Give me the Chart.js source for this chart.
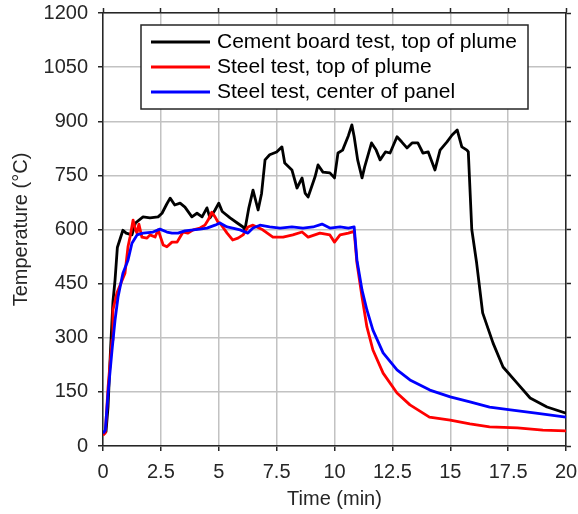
<!DOCTYPE html>
<html>
<head>
<meta charset="utf-8">
<script src="https://cdn.jsdelivr.net/npm/chart.js@4.4.1/dist/chart.umd.min.js"></script>
<style>
  html, body { margin: 0; padding: 0; background: #fff; }
  canvas { display: block; }
</style>
</head>
<body>
<canvas id="chart" width="578" height="514"></canvas>
<script>
// Cement board test, top of plume
const cementTime = [0, 0.13, 0.22, 0.32, 0.43, 0.52, 0.62, 0.86, 1.0, 1.25, 1.4, 1.73, 2.03, 2.38, 2.55, 2.75, 2.9, 3.1, 3.33, 3.54, 3.84, 4.06, 4.28, 4.49, 4.62, 4.84, 5.0, 5.15, 5.49, 5.8, 6.05, 6.13, 6.3, 6.48, 6.7, 6.85, 7.0, 7.2, 7.5, 7.73, 7.85, 8.16, 8.38, 8.6, 8.73, 8.86, 9.16, 9.29, 9.5, 9.8, 10.0, 10.15, 10.35, 10.6, 10.75, 10.85, 11.0, 11.19, 11.3, 11.6, 11.8, 11.97, 12.2, 12.4, 12.7, 12.9, 13.13, 13.35, 13.6, 13.82, 14.05, 14.34, 14.56, 14.86, 15.08, 15.3, 15.5, 15.72, 15.78, 15.93, 16.14, 16.4, 16.85, 17.28, 17.88, 18.45, 19.18, 20];
const cementTemp = [35, 40, 110, 260, 400, 460, 550, 598, 590, 585, 618, 635, 632, 635, 645, 670, 687, 668, 673, 662, 635, 645, 635, 660, 632, 654, 673, 650, 632, 618, 607, 599, 660, 709, 654, 700, 793, 807, 815, 829, 784, 765, 715, 743, 701, 690, 746, 779, 759, 757, 743, 812, 820, 860, 890, 857, 793, 743, 773, 840, 820, 793, 815, 812, 857, 843, 826, 840, 840, 812, 815, 765, 820, 843, 862, 876, 829, 820, 815, 600, 507, 369, 285, 219, 175, 133, 108, 91];

// Steel test, top of plume
const steelPlumeTime = [0, 0.1, 0.22, 0.39, 0.43, 0.6, 0.95, 1.08, 1.17, 1.3, 1.4, 1.47, 1.55, 1.68, 1.9, 2.03, 2.25, 2.38, 2.6, 2.76, 2.98, 3.2, 3.33, 3.46, 3.67, 3.9, 4.19, 4.4, 4.54, 4.7, 4.84, 4.97, 5.05, 5.36, 5.6, 5.83, 6.05, 6.26, 6.48, 6.65, 6.9, 7.34, 7.78, 8.2, 8.6, 8.86, 9.37, 9.8, 10.0, 10.24, 10.6, 10.85, 10.97, 11.19, 11.4, 11.66, 12.1, 12.7, 13.26, 14.1, 15.0, 15.85, 16.7, 17.9, 19.0, 20];
const steelPlumeTemp = [30, 36, 164, 294, 377, 424, 479, 552, 580, 626, 600, 590, 615, 579, 576, 585, 579, 599, 557, 552, 565, 565, 579, 593, 590, 599, 604, 612, 626, 648, 635, 620, 618, 590, 571, 576, 585, 607, 612, 607, 599, 579, 579, 585, 593, 579, 590, 585, 565, 585, 590, 595, 507, 413, 330, 266, 202, 147, 114, 80, 72, 61, 53, 50, 44, 42];

// Steel test, center of panel
const steelPanelTime = [0, 0.1, 0.22, 0.39, 0.52, 0.65, 0.86, 1.08, 1.25, 1.47, 1.73, 2.16, 2.46, 2.76, 2.98, 3.24, 3.54, 3.9, 4.19, 4.49, 4.84, 5.05, 5.36, 5.6, 5.92, 6.26, 6.48, 6.78, 7.2, 7.65, 8.16, 8.64, 9.07, 9.46, 9.8, 10.24, 10.6, 10.85, 10.97, 11.19, 11.4, 11.66, 12.1, 12.7, 13.26, 14.12, 15.0, 15.85, 16.7, 17.6, 18.7, 20];
const steelPanelTemp = [35, 44, 147, 266, 349, 413, 479, 515, 562, 585, 590, 593, 601, 593, 590, 590, 596, 599, 601, 604, 612, 618, 607, 604, 599, 590, 604, 612, 607, 604, 607, 604, 607, 615, 604, 607, 604, 607, 515, 432, 377, 321, 258, 211, 183, 155, 136, 122, 108, 100, 91, 80];

const seriesLabels = ['Cement board test, top of plume', 'Steel test, top of plume', 'Steel test, center of panel'];
const xTicks = [0, 2.5, 5, 7.5, 10, 12.5, 15, 17.5, 20];
const yTicks = [0, 150, 300, 450, 600, 750, 900, 1050, 1200];

const axisColor = '#262626';
const gridColor = '#c2c2c2';
const labelFont = { family: "'Liberation Sans', Arial, sans-serif", size: 20 };

const toPoints = (ts, vs) => ts.map((t, i) => ({ x: t, y: vs[i] }));
const fixedTicks = values => scale => { scale.ticks = values.map(v => ({ value: v })); };
// pin each axis box to a set size and drop the label overhang margins
const fixBox = size => s => {
    if (s.isHorizontal()) s.height = size; else s.width = size;
    s.paddingLeft = s.paddingRight = s.paddingTop = s.paddingBottom = 0;
};

// legend box drawn inside the plot, on top of the grid
const boxLegend = {
    id: 'boxLegend',
    afterDatasetsDraw: (chart, args, opts) => {
        const { ctx } = chart;
        ctx.save();
        ctx.fillStyle = '#fff';
        ctx.fillRect(opts.left, opts.top, opts.width, opts.height);
        ctx.strokeStyle = axisColor;
        ctx.lineWidth = 1.5;
        ctx.strokeRect(opts.left, opts.top, opts.width, opts.height);
        ctx.font = `${opts.fontSize}px ${labelFont.family}`;
        ctx.textBaseline = 'middle';
        chart.data.datasets.forEach((ds, i) => {
            const y = opts.top + opts.firstRow + i * opts.rowGap;
            ctx.strokeStyle = ds.borderColor;
            ctx.lineWidth = ds.borderWidth;
            ctx.beginPath();
            ctx.moveTo(opts.left + 10, y);
            ctx.lineTo(opts.left + 69, y);
            ctx.stroke();
            ctx.fillStyle = '#000';
            ctx.fillText(ds.label, opts.left + 76, y);
        });
        ctx.restore();
    }
};

new Chart(document.getElementById('chart').getContext('2d'), {
    type: 'line',
    data: {
        datasets: [{
            label: seriesLabels[0],
            data: toPoints(cementTime, cementTemp),
            borderColor: '#000000',
            borderWidth: 2.8,
            order: 3
        }, {
            label: seriesLabels[1],
            data: toPoints(steelPlumeTime, steelPlumeTemp),
            borderColor: '#ff0000',
            borderWidth: 2.8,
            order: 2
        }, {
            label: seriesLabels[2],
            data: toPoints(steelPanelTime, steelPanelTemp),
            borderColor: '#0000ff',
            borderWidth: 2.8,
            order: 1
        }]
    },
    options: {
        responsive: false,
        animation: false,
        devicePixelRatio: 1,
        layout: { padding: 0 },
        elements: {
            point: { radius: 0 },
            line: { tension: 0, fill: false, borderJoinStyle: 'round' }
        },
        plugins: {
            legend: { display: false },
            tooltip: { enabled: false },
            boxLegend: {
                left: 141, top: 25, width: 387, height: 84,
                firstRow: 17, rowGap: 25, fontSize: 21
            }
        },
        scales: {
            x: {
                type: 'linear',
                position: 'bottom',
                min: 0,
                max: 20,
                afterBuildTicks: fixedTicks(xTicks),
                afterFit: fixBox(68),
                grid: { color: gridColor, lineWidth: 1.5, tickColor: axisColor, tickLength: 5, tickWidth: 1.5 },
                border: { color: axisColor, width: 1.5 },
                ticks: { color: axisColor, font: labelFont, padding: 9, maxRotation: 0, callback: v => String(v) },
                title: { display: true, text: 'Time (min)', color: axisColor, font: labelFont, padding: { top: 0, bottom: 3 } }
            },
            y: {
                type: 'linear',
                position: 'left',
                min: 0,
                max: 1200,
                afterBuildTicks: fixedTicks(yTicks),
                afterFit: fixBox(103),
                grid: { color: gridColor, lineWidth: 1.5, tickColor: axisColor, tickLength: 5, tickWidth: 1.5 },
                border: { color: axisColor, width: 1.5 },
                ticks: { color: axisColor, font: labelFont, padding: 10, callback: v => String(v) },
                title: { display: true, text: 'Temperature (°C)', color: axisColor, font: labelFont, padding: { top: 9, bottom: 0 } }
            },
            xTop: {
                type: 'linear',
                position: 'top',
                display: true,
                min: 0,
                max: 20,
                afterBuildTicks: fixedTicks(xTicks),
                afterFit: fixBox(13),
                grid: { drawOnChartArea: false, tickColor: axisColor, tickLength: 5, tickWidth: 1.5 },
                border: { color: axisColor, width: 1.5 },
                ticks: { display: false }
            },
            yRight: {
                type: 'linear',
                position: 'right',
                display: true,
                min: 0,
                max: 1200,
                afterBuildTicks: fixedTicks(yTicks),
                afterFit: fixBox(12),
                grid: { drawOnChartArea: false, tickColor: axisColor, tickLength: 5, tickWidth: 1.5 },
                border: { color: axisColor, width: 1.5 },
                ticks: { display: false }
            }
        }
    },
    plugins: [boxLegend]
});
</script>
</body>
</html>
